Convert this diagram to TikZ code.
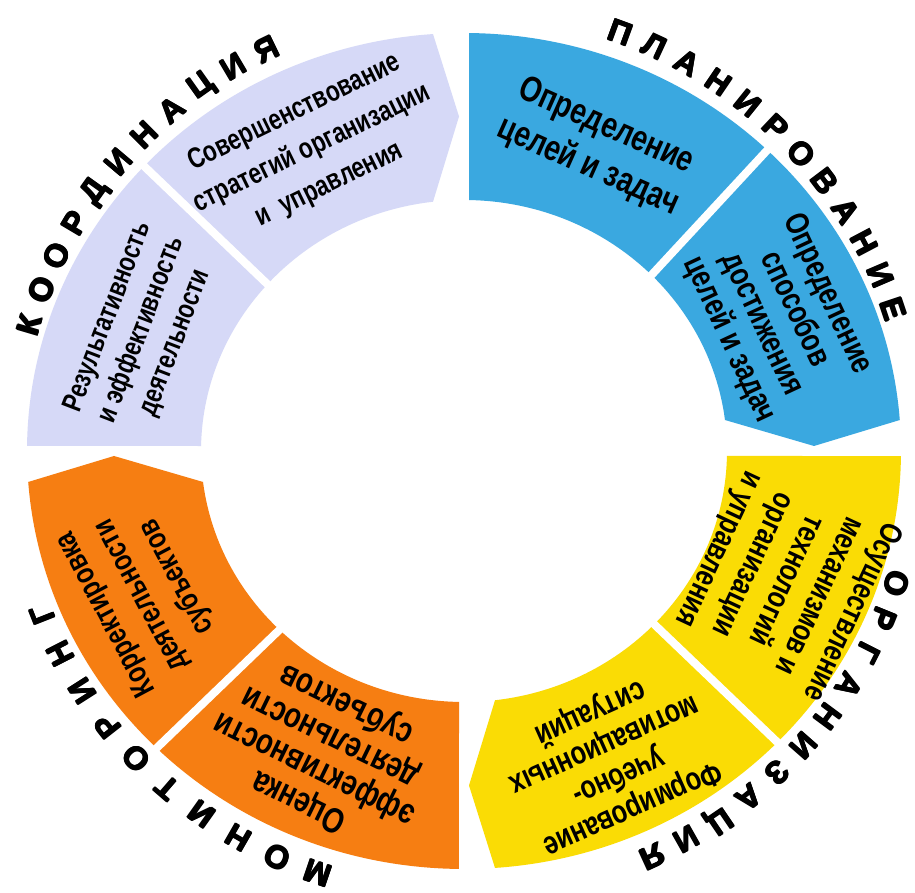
\documentclass[tikz,border=0pt]{standalone}
\usepackage{fontspec}
\setmainfont{Liberation Sans}
\newfontfamily\segfont[FakeStretch=0.78]{Liberation Sans}
\newfontfamily\lblfont{Liberation Sans}
\definecolor{lav}{RGB}{214,217,247}
\definecolor{sky}{RGB}{58,168,224}
\definecolor{sun}{RGB}{250,220,5}
\definecolor{tang}{RGB}{246,126,18}
\newcommand\hvy[1]{\makebox[0pt]{\raisebox{0.7pt}{#1}}\makebox[0pt]{\raisebox{-0.7pt}{#1}}%
  \makebox[0pt]{\kern1.5pt#1}\makebox[0pt]{#1\kern1.5pt}\makebox[0pt]{#1}}
\tikzset{
  segtext/.style n args={2}{align=center, inner sep=0pt, text=black,
    font=\segfont\bfseries\fontsize{#1}{#2}\selectfont},
  lbl/.style={inner sep=0pt, text=black, font=\lblfont\bfseries\fontsize{32}{32}\selectfont},
  gapline/.style={white, line width=8pt}
}
\begin{document}
\begin{tikzpicture}[x=1pt,y=1pt]
\useasboundingbox (0,0) rectangle (915,893);
\fill[white] (0,0) rectangle (915,893);
\begin{scope}[shift={(464,442)}]
% quadrants
\fill[lav] (179.31:437 and 418) arc[start angle=179.31,end angle=94.07,x radius=437,y radius=418]
  -- (-5,334.5) -- (96.77:263 and 251) arc[start angle=96.77,end angle=178.86,x radius=263,y radius=251] -- cycle;
\fill[sky] (89.34:437 and 418) arc[start angle=89.34,end angle=4.25,x radius=437,y radius=418]
  -- (350,5) -- (7.09:263 and 251) arc[start angle=7.09,end angle=88.91,x radius=263,y radius=251] -- cycle;
\fill[sun] (-0.69:437 and 418) arc[start angle=-0.69,end angle=-85.93,x radius=437,y radius=418]
  -- (5,-334.5) -- (-83.23:263 and 251) arc[start angle=-83.23,end angle=-1.14,x radius=263,y radius=251] -- cycle;
\fill[tang] (-90.66:437 and 418) arc[start angle=-90.66,end angle=-175.75,x radius=437,y radius=418]
  -- (-350,-5) -- (-172.91:263 and 251) arc[start angle=-172.91,end angle=-91.09,x radius=263,y radius=251] -- cycle;
% gaps inside quadrants
\coordinate (g1a) at (-179,150); \coordinate (g1b) at (-341,305);
\coordinate (g2a) at (169,156);  \coordinate (g2b) at (321,320);
\coordinate (g3a) at (169,-153); \coordinate (g3b) at (333,-310);
\coordinate (g4a) at (-165,-160);\coordinate (g4b) at (-326,-315);
\draw[gapline] (g1a) -- (g1b);
\draw[gapline] (g2a) -- (g2b);
\draw[gapline] (g3a) -- (g3b);
\draw[gapline] (g4a) -- (g4b);
% segment texts
\node[segtext={29}{40}, rotate=26] (t1) at (-152,302) {Совершенствование\\стратегий организации\\и\ \ управления};
\node[segtext={28.5}{36}, rotate=69] (t2) at (-322,121) {Результативность\\и эффективность\\деятельности};
\node[segtext={36}{44}, rotate=-24] (t3) at (133,304) {Определение\\целей и задач};
\node[segtext={33}{36}, rotate=-65] (t4) at (314,134) {Определение\\способов\\достижения\\целей и задач};
\node[segtext={31.5}{37}, rotate=-115] (t5) at (321,-129) {Осуществление\\механизмов и\\технологий\\организации\\и управления};
\node[segtext={32.5}{35}, rotate=204] (t6) at (147,-309) {Формирование\\учебно-\\мотивационных\\ситуаций};
\node[segtext={35.5}{36}, rotate=154] (t7) at (-141,-301) {Оценка\\эффективности\\деятельности\\субъектов};
\node[segtext={31}{40}, rotate=118] (t8) at (-322,-144) {Корректировка\\деятельности\\субъектов};
% outer labels
\foreach \ch [count=\i from 0] in {К,О,О,Р,Д,И,Н,А,Ц,И,Я}{
  \pgfmathsetmacro\a{163.6-4.78*\i}
  \node[lbl, rotate=\a-90] (ko\i) at (\a:453 and 446) {\hvy{\ch}};}
\foreach \ch [count=\i from 0] in {П,Л,А,Н,И,Р,О,В,А,Н,И,Е}{
  \pgfmathsetmacro\a{69.8-4.66*\i}
  \node[lbl, rotate=\a-90] (pl\i) at (\a:453 and 446) {\hvy{\ch}};}
\foreach \ch [count=\i from 0] in {О,Р,Г,А,Н,И,З,А,Ц,И,Я}{
  \pgfmathsetmacro\a{-17.3-4.81*\i}
  \node[lbl, rotate=\a-90] (or\i) at (\a:453 and 446) {\hvy{\ch}};}
\foreach \ch [count=\i from 0] in {М,О,Н,И,Т,О,Р,И,Н,Г}{
  \pgfmathsetmacro\a{251.2-5.52*\i}
  \node[lbl, rotate=\a-90] (mo\i) at (\a:453 and 446) {\hvy{\ch}};}
\end{scope}
\end{tikzpicture}
\end{document}
